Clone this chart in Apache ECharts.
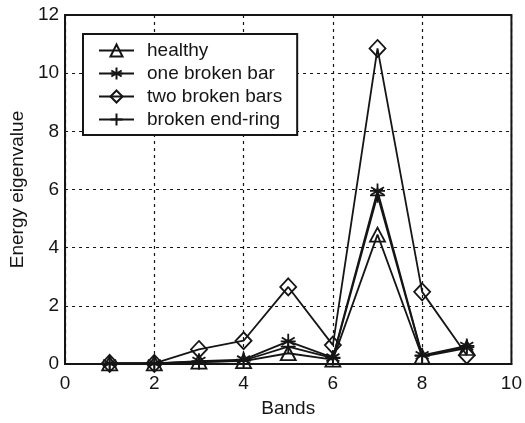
<!DOCTYPE html>
<html>
<head>
<meta charset="utf-8">
<script src="https://cdn.jsdelivr.net/npm/echarts@6/dist/echarts.min.js"></script>
<style>
  html, body { margin: 0; padding: 0; background: #fff; }
  #chart { width: 525px; height: 423px; }
</style>
</head>
<body>
<div id="chart"></div>
<script>
// Energy eigenvalue per wavelet band for each rotor condition
const bands = [1, 2, 3, 4, 5, 6, 7, 8, 9];
const healthy       = [0.02, 0.02, 0.08, 0.10, 0.37, 0.15, 4.45, 0.25, 0.55];
const oneBrokenBar  = [0.02, 0.02, 0.10, 0.15, 0.78, 0.22, 5.95, 0.30, 0.62];
const twoBrokenBars = [0.02, 0.02, 0.50, 0.80, 2.65, 0.65, 10.85, 2.48, 0.30];
const brokenEndRing = [0.02, 0.02, 0.06, 0.12, 0.60, 0.20, 5.80, 0.28, 0.58];
const xTicks = [0, 2, 4, 6, 8, 10];
const yTicks = [0, 2, 4, 6, 8, 10, 12];

const INK = '#151515';
const FONT = 'Liberation Sans, Arial, sans-serif';

// Asterisk and plus markers drawn as stroked paths
const STAR = 'path://M0,-10 L0,10 M-8.66,-5 L8.66,5 M-8.66,5 L8.66,-5 M-10,0 L10,0';
const PLUS = 'path://M0,-10 L0,10 M-10,0 L10,0';

function pairs(vals) {
  return bands.map((b, i) => [b, vals[i]]);
}

function makeSeries(name, vals, symbol, size, z) {
  return {
    name: name,
    type: 'line',
    data: pairs(vals),
    symbol: symbol,
    symbolSize: size,
    showAllSymbol: true,
    z: z,
    lineStyle: { color: INK, width: 1.8 },
    itemStyle: { color: 'rgba(255,255,255,0)', borderColor: INK, borderWidth: 1.8 },
    emphasis: { disabled: true },
    animation: false
  };
}

const chart = echarts.init(document.getElementById('chart'), null, { renderer: 'canvas' });
chart.setOption({
  backgroundColor: '#ffffff',
  animation: false,
  textStyle: { fontFamily: FONT, color: INK },
  grid: {
    left: 63, right: 11, top: 15, bottom: 55,
    show: true, borderColor: INK, borderWidth: 2, backgroundColor: 'transparent'
  },
  legend: {
    orient: 'vertical',
    left: 83, top: 34,
    padding: [7, 15, 6, 15],
    itemWidth: 35, itemHeight: 15, itemGap: 4,
    backgroundColor: '#ffffff',
    borderColor: INK, borderWidth: 2, borderRadius: 0,
    textStyle: { fontFamily: FONT, fontSize: 19, color: INK, padding: [0, 0, 0, 8] },
    data: ['healthy', 'one broken bar', 'two broken bars', 'broken end-ring'],
    selectedMode: false
  },
  xAxis: {
    type: 'value', min: 0, max: 10, interval: 2,
    name: 'Bands', nameLocation: 'middle', nameGap: 35,
    nameTextStyle: { fontFamily: FONT, fontSize: 19, color: INK },
    axisLine: { show: true, onZero: false, lineStyle: { color: INK, width: 2 } },
    axisTick: { show: false },
    axisLabel: {
      fontFamily: FONT, fontSize: 19, color: INK, margin: 10,
      formatter: v => xTicks.includes(v) ? String(v) : ''
    },
    splitLine: { show: true, lineStyle: { color: INK, type: [3, 4], width: 1.2 } }
  },
  yAxis: {
    type: 'value', min: 0, max: 12, interval: 2,
    name: 'Energy eigenvalue', nameLocation: 'middle', nameGap: 34,
    nameTextStyle: { fontFamily: FONT, fontSize: 19, color: INK },
    axisLine: { show: true, onZero: false, lineStyle: { color: INK, width: 2 } },
    axisTick: { show: false },
    axisLabel: {
      fontFamily: FONT, fontSize: 19, color: INK, margin: 6,
      formatter: v => yTicks.includes(v) ? String(v) : ''
    },
    splitLine: { show: true, lineStyle: { color: INK, type: [3, 4], width: 1.2 } }
  },
  series: [
    makeSeries('healthy', healthy, 'triangle', [15, 14], 4),
    makeSeries('one broken bar', oneBrokenBar, STAR, 15, 3),
    makeSeries('two broken bars', twoBrokenBars, 'diamond', [16, 17], 5),
    makeSeries('broken end-ring', brokenEndRing, PLUS, 15, 2)
  ]
});
</script>
</body>
</html>
